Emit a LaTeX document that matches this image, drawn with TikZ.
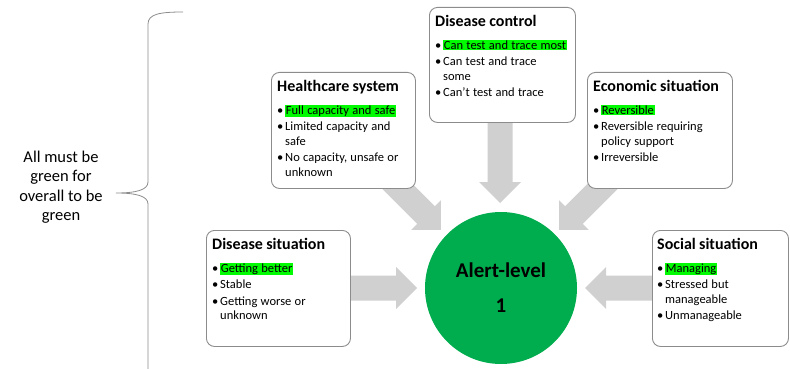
\documentclass[tikz,border=0pt]{standalone}
\usepackage{fontspec}
\setmainfont{Carlito}
\definecolor{arrowgray}{RGB}{208,208,208}
\definecolor{boxgray}{RGB}{140,140,140}
\definecolor{alertgreen}{RGB}{0,173,78}
\definecolor{hlgreen}{RGB}{0,250,0}
\newcommand{\btitle}[1]{{\fontsize{16}{19}\selectfont\bfseries #1\par}\vspace{8pt}}
\newcommand{\bitem}[1]{{\fontsize{12.5}{14.5}\selectfont\hangindent=8pt\hangafter=1\noindent\makebox[8pt][l]{\textbullet}#1\par}\vspace{2pt}}
\newcommand{\hl}[1]{{\setlength{\fboxsep}{0.7pt}\colorbox{hlgreen}{#1}}}
\newcommand{\blockarrow}[4]{%
  \begin{scope}[shift={(#1,#2)}, rotate=#3]
    \fill[arrowgray] (0,-12.5) -- ({#4-21},-12.5) -- ({#4-21},-21) -- (#4,0) -- ({#4-21},21) -- ({#4-21},12.5) -- (0,12.5) -- cycle;
  \end{scope}}
\tikzset{
  panel/.style={draw=boxgray, line width=0.9pt, rounded corners=8pt, fill=white, anchor=north west, inner sep=0pt},
  content/.style={anchor=north west, inner sep=0pt, text width=200pt, align=left},
}
\begin{document}
\begin{tikzpicture}[x=1pt, y=-1pt]
\useasboundingbox (0,0) rectangle (790,369);

% brace and note
\draw[boxgray, line width=0.8pt] (183,12) .. controls (160,12) and (148,14) .. (148,24) -- (148,182)
  .. controls (148,190) and (136,193) .. (116,193) .. controls (136,193) and (148,196) .. (148,204) -- (148,370);
\node[align=center, font=\fontsize{16.5}{19.5}\selectfont, inner sep=0pt] (note) at (61,187) {All must be\\green for\\overall to be\\green};

% block arrows (drawn beneath the panels)
\blockarrow{340}{288}{0}{77}
\blockarrow{665}{288}{180}{80}
\blockarrow{500}{110}{-90}{93}
\blockarrow{384.4}{173.4}{-45}{80}
\blockarrow{615.6}{173.4}{-135}{80}

% panels
\node[panel, minimum width=144pt, minimum height=116pt] (ds) at (206,230) {};
\node[panel, minimum width=144pt, minimum height=116pt] (hs) at (271,72) {};
\node[panel, minimum width=146pt, minimum height=115pt] (dc) at (429,7) {};
\node[panel, minimum width=145pt, minimum height=116pt] (es) at (587,72) {};
\node[panel, minimum width=136pt, minimum height=116pt] (ss) at (652,230) {};

\node[content] (dst) at (212,238.5) {\btitle{Disease situation}\bitem{\hl{Getting better}}\bitem{Stable}\bitem{Getting worse or\newline unknown}};
\node[content] (hst) at (277,80.5) {\btitle{Healthcare system}\bitem{\hl{Full capacity and safe}}\bitem{Limited capacity and\newline safe}\bitem{No capacity, unsafe or\newline unknown}};
\node[content] (dct) at (435,15.5) {\btitle{Disease control}\bitem{\hl{Can test and trace most}}\bitem{Can test and trace\newline some}\bitem{Can’t test and trace}};
\node[content] (est) at (593,80.5) {\btitle{Economic situation}\bitem{\hl{Reversible}}\bitem{Reversible requiring\newline policy support}\bitem{Irreversible}};
\node[content] (sst) at (657,238.5) {\btitle{Social situation}\bitem{\hl{Managing}}\bitem{Stressed but\newline manageable}\bitem{Unmanageable}};

% alert level circle
\node[circle, fill=alertgreen, minimum size=152pt, inner sep=0pt, align=center, font=\fontsize{21}{35}\selectfont\bfseries] (al) at (501,288) {Alert-level\\1};
\end{tikzpicture}
\end{document}
